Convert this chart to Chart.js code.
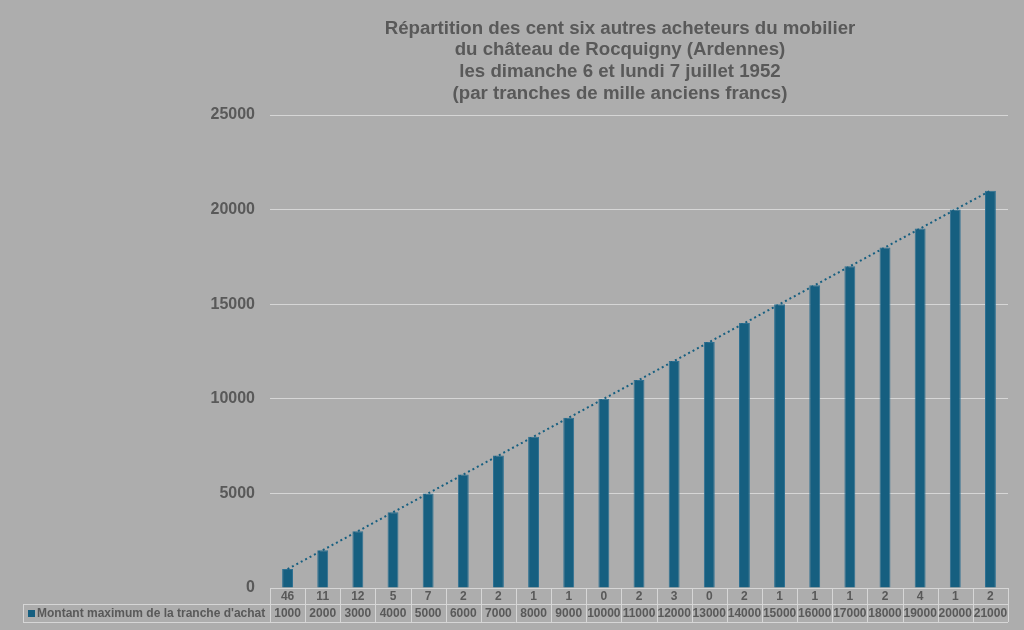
<!DOCTYPE html>
<html lang="fr">
<head>
<meta charset="utf-8">
<title>Répartition des acheteurs</title>
<script src="https://cdn.jsdelivr.net/npm/chart.js@4/dist/chart.umd.min.js"></script>
<style>
    body { margin: 0; background: #adadad; }
    #wrap { width: 1024px; height: 630px; }
</style>
</head>
<body>
<div id="wrap"><canvas id="chart" width="1024" height="630"></canvas></div>
<script>
// Nombre d'acheteurs par tranche (ligne du haut du tableau)
const acheteurs = [46, 11, 12, 5, 7, 2, 2, 1, 1, 0, 2, 3, 0, 2, 1, 1, 1, 2, 4, 1, 2];
// Montant maximum de la tranche d'achat
const montants = [1000, 2000, 3000, 4000, 5000, 6000, 7000, 8000, 9000, 10000, 11000,
    12000, 13000, 14000, 15000, 16000, 17000, 18000, 19000, 20000, 21000];
const titleLines = [
    "Répartition des cent six autres acheteurs du mobilier",
    "du château de Rocquigny (Ardennes)",
    "les dimanche 6 et lundi 7 juillet 1952",
    "(par tranches de mille anciens francs)"
];
const serieLabel = "Montant maximum de la tranche d'achat";
const yMax = 25000;
const yStep = 5000;

const barColor = "#165f80";
const textColor = "#595959";
const gridColor = "#d6d6d6";
const fontFamily = "'Liberation Sans', Arial, sans-serif";

// fond gris, titre et tableau de données
const decorPlugin = {
    id: "decor",
    beforeDraw(chart) {
        const c = chart.ctx;
        c.save();
        c.fillStyle = "#adadad";
        c.fillRect(0, 0, chart.width, chart.height);
        c.restore();
    },
    afterDraw(chart) {
        const c = chart.ctx;
        const x = chart.scales.x;
        const area = chart.chartArea;
        const half = (x.getPixelForValue(1) - x.getPixelForValue(0)) / 2;

        c.save();
        // titre
        c.fillStyle = textColor;
        c.font = "bold 18.67px " + fontFamily;
        c.textAlign = "center";
        c.textBaseline = "middle";
        titleLines.forEach((line, i) => c.fillText(line, 620, 28.5 + i * 21.7));

        // tableau
        const top = area.bottom;
        const mid = top + 16;
        const bot = mid + 18;
        const legendLeft = 23;
        c.strokeStyle = gridColor;
        c.lineWidth = 1;
        c.beginPath();
        c.moveTo(area.left, top + 0.5); c.lineTo(area.right, top + 0.5);
        c.moveTo(legendLeft, mid + 0.5); c.lineTo(area.right, mid + 0.5);
        c.moveTo(legendLeft, bot + 0.5); c.lineTo(area.right, bot + 0.5);
        c.moveTo(legendLeft + 0.5, mid); c.lineTo(legendLeft + 0.5, bot);
        for (let i = 0; i <= acheteurs.length; i++) {
            const px = Math.round(x.getPixelForValue(i) - half) + 0.5;
            c.moveTo(px, top); c.lineTo(px, bot);
        }
        c.stroke();

        c.font = "bold 12px " + fontFamily;
        c.fillStyle = textColor;
        c.textAlign = "center";
        acheteurs.forEach((v, i) => {
            const px = x.getPixelForValue(i);
            c.fillText(String(v), px, (top + mid) / 2 + 1);
            c.fillText(String(montants[i]), px, (mid + bot) / 2 + 1);
        });

        // légende dans le tableau
        c.fillStyle = barColor;
        c.fillRect(28, (mid + bot) / 2 - 3, 7, 7);
        c.fillStyle = textColor;
        c.textAlign = "left";
        c.fillText(serieLabel, 37, (mid + bot) / 2 + 1);
        c.restore();
    }
};

new Chart(document.getElementById("chart"), {
    data: {
        labels: acheteurs.map(String),
        datasets: [
            {
                type: "line",
                label: "Tendance",
                data: montants,
                borderColor: barColor,
                borderWidth: 2,
                borderDash: [2, 3],
                pointRadius: 0,
                fill: false,
                order: 0
            },
            {
                type: "bar",
                label: serieLabel,
                data: montants,
                backgroundColor: barColor,
                borderColor: "#2f7192",
                borderWidth: 1,
                barPercentage: 0.31,
                categoryPercentage: 1,
                order: 1
            }
        ]
    },
    options: {
        responsive: false,
        animation: false,
        layout: { padding: { top: 115, bottom: 42, right: 16, left: 0 } },
        plugins: {
            legend: { display: false },
            tooltip: { enabled: false }
        },
        scales: {
            x: { display: false },
            y: {
                min: 0,
                max: yMax,
                afterFit(scale) { scale.width = 270; },
                ticks: {
                    stepSize: yStep,
                    padding: 15,
                    color: textColor,
                    font: { family: fontFamily, size: 16, weight: "bold" },
                    callback: (value) => String(value)
                },
                grid: {
                    color: (ctx) => ctx.tick && ctx.tick.value === 0 ? "rgba(0,0,0,0)" : gridColor,
                    lineWidth: 1,
                    drawTicks: false
                },
                border: { display: false }
            }
        }
    },
    plugins: [decorPlugin]
});
</script>
</body>
</html>
